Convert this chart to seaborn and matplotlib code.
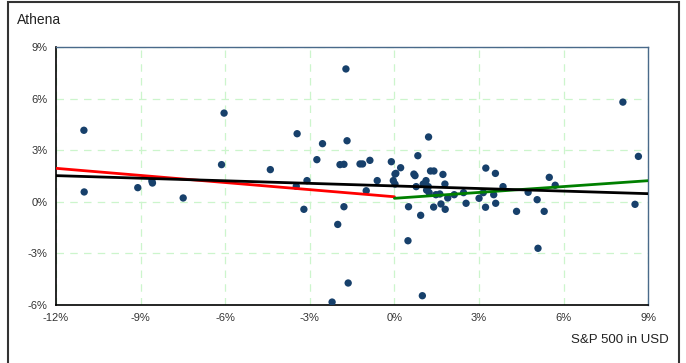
import numpy as np
import matplotlib
matplotlib.use('Agg')
import matplotlib.pyplot as plt
import matplotlib.ticker as mtick
import seaborn as sns
import pandas as pd

# monthly returns in %
sp500 = [-11.01, -11.0, -9.10, -8.58, -8.60, -7.49, -6.04, -6.13, -4.40, -3.45,
         -3.48, -3.10, -3.21, -2.75, -2.55, -2.01, -2.21, -1.72, -1.68, -1.93,
         -1.79, -1.79, -1.64, -1.22, -1.13, -0.87, -1.00, -0.61, -0.11, 0.02,
         0.05, -0.04, 0.02, 0.22, 0.50, 0.48, 0.83, 0.69, 0.73, 0.77,
         0.93, 0.99, 1.21, 1.28, 1.40, 1.02, 1.12, 1.20, 1.23, 1.14,
         1.39, 1.47, 1.61, 1.65, 1.72, 1.79, 1.80, 1.89, 2.12, 2.45,
         2.54, 3.00, 3.15, 3.24, 3.23, 3.52, 3.58, 3.59, 3.85, 4.33,
         4.74, 5.06, 5.09, 5.31, 5.49, 5.70, 8.10, 8.65, 8.53]
athena = [4.17, 0.58, 0.83, 1.10, 1.22, 0.23, 5.17, 2.17, 1.88, 3.97,
          0.91, 1.24, -0.43, 2.46, 3.39, -1.31, -5.83, 7.74, 3.56, 2.17,
          2.19, -0.28, -4.72, 2.21, 2.21, 2.42, 0.65, 1.24, 2.34, 1.62,
          1.66, 1.24, 1.04, 1.99, -0.28, -2.26, 2.69, 1.62, 1.53, 0.89,
          -0.78, -5.46, 3.78, 1.80, 1.80, 1.04, 1.24, 0.89, 0.54, 0.69,
          -0.30, 0.42, 0.46, -0.12, 1.60, 1.04, -0.43, 0.23, 0.42, 0.54,
          -0.08, 0.21, 0.54, 1.97, -0.31, 0.42, 1.66, -0.08, 0.89, -0.55,
          0.56, 0.13, -2.70, -0.55, 1.43, 0.97, 5.81, 2.65, -0.14]

# fitted lines: (x start, x end, intercept, slope)
fit_all = (-12, 9, 0.93, -0.050)
fit_down = (-12, 0, 0.30, -0.138)
fit_up = (0, 9, 0.21, 0.114)

sns.set_style('white')
plt.rcParams['font.family'] = ['Liberation Sans', 'DejaVu Sans']

fig = plt.figure(figsize=(6.86, 3.63), dpi=100)
ax = fig.add_axes([0.0816, 0.1598, 0.8634, 0.7099])

df = pd.DataFrame({'x': sp500, 'y': athena})
sns.scatterplot(data=df, x='x', y='y', ax=ax, color='#17406b', s=28,
                edgecolor='none', zorder=3)

for (x0, x1, b, m), col, lw in [(fit_down, 'red', 2.0), (fit_up, 'green', 2.0),
                                (fit_all, 'black', 2.0)]:
    xs = np.array([x0, x1])
    sns.lineplot(x=xs, y=b + m * xs, ax=ax, color=col, lw=lw, zorder=4)

ax.set_xlim(-12, 9)
ax.set_ylim(-6, 9)
ax.set_xticks(range(-12, 10, 3))
ax.set_yticks(range(-6, 10, 3))
ax.xaxis.set_major_formatter(mtick.FuncFormatter(lambda v, p: f'{v:.0f}%'))
ax.yaxis.set_major_formatter(mtick.FuncFormatter(lambda v, p: f'{v:.0f}%'))
ax.tick_params(labelsize=8, colors='#333333', length=0, pad=6)
ax.grid(True, color='#ccf5cc', linestyle=(0, (6, 5)), linewidth=0.9)
ax.set_xlabel('')
ax.set_ylabel('')
for side in ['left', 'bottom']:
    ax.spines[side].set_color('black')
    ax.spines[side].set_linewidth(1.2)
for side in ['top', 'right']:
    ax.spines[side].set_color('#4a6a8a')
    ax.spines[side].set_linewidth(1.0)

fig.text(0.0248, 0.945, 'Athena', fontsize=10, va='center', ha='left', color='#222222')
fig.text(0.975, 0.064, 'S&P 500 in USD', fontsize=9.5, va='center', ha='right', color='#222222')

# outer frame
fig.add_artist(plt.Rectangle((8 / 686, -0.02), 670.5 / 686, 1.0 - 1.5 / 363 + 0.02,
                             transform=fig.transFigure, fill=False,
                             edgecolor='#333333', linewidth=1.5))

fig.savefig('out.png', dpi=100)
